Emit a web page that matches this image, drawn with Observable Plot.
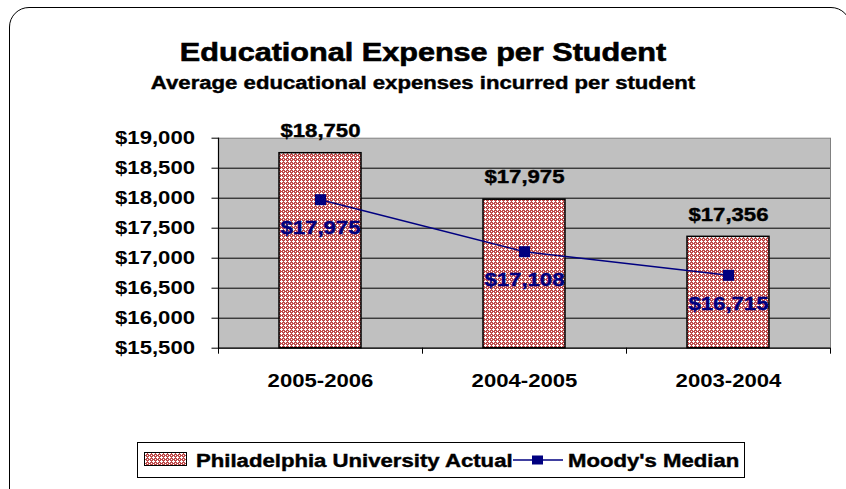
<!DOCTYPE html>
<html><head><meta charset="utf-8">
<script src="https://cdn.jsdelivr.net/npm/d3@7"></script>
<script src="https://cdn.jsdelivr.net/npm/@observablehq/plot@0.6"></script>
<style>
body{margin:0;background:#fff;}
#wrap{position:relative;width:846px;height:489px;overflow:hidden;font-family:"Liberation Sans",Arial,sans-serif;font-weight:bold;color:#000;}
#frame{position:absolute;left:9px;top:7px;width:842px;height:540px;border:1.5px solid #000;border-radius:20px;box-sizing:border-box;}
.t{position:absolute;white-space:nowrap;-webkit-text-stroke:0.4px #000;}
#title{left:0;top:40px;width:846px;text-align:center;font-size:25.5px;line-height:25.5px;transform:scaleX(1.2);transform-origin:423px 0;-webkit-text-stroke:0.6px #000;}
#subtitle{left:0;top:74px;width:846px;text-align:center;font-size:18px;line-height:18px;transform:scaleX(1.23);transform-origin:423px 0;}
#chart{position:absolute;left:0;top:100px;}
#legend{position:absolute;left:137px;top:442px;width:608px;height:36px;border:1px solid #000;background:#fff;box-sizing:border-box;}
#legend .lt{position:absolute;top:8.5px;font-size:18px;line-height:18px;transform:scaleX(1.23);transform-origin:0 0;white-space:nowrap;-webkit-text-stroke:0.4px #000;}
#legend svg{position:absolute;}
</style>
</head><body>
<div id="wrap">
  <div id="frame"></div>
  <div id="title" class="t"></div>
  <div id="subtitle" class="t"></div>
  <div id="chart"></div>
  <div id="legend"></div>
</div>
<script>
const titleText = "Educational Expense per Student";
const subtitleText = "Average educational expenses incurred per student";
const categories = ["2005-2006", "2004-2005", "2003-2004"];
const actualValues = [18750, 17975, 17356];
const moodysValues = [17975, 17108, 16715];
const yTicks = [15500, 16000, 16500, 17000, 17500, 18000, 18500, 19000];
const seriesNames = ["Philadelphia University Actual", "Moody's Median"];

const data = categories.map((c, i) => ({year: c, actual: actualValues[i], moody: moodysValues[i]}));
const yMin = yTicks[0], yMax = yTicks[yTicks.length - 1];
const fmt = d => "$" + d3.format(",")(d);

const W = 846, H = 300, mL = 218, mR = 16, mT = 37.7, mB = 52.3;
const step = (W - mL - mR) / categories.length;
const plotH = H - mT - mB;
const navy = "#000080";
const SX = 1.23;

document.getElementById("title").textContent = titleText;
document.getElementById("subtitle").textContent = subtitleText;

const chart = Plot.plot({
  width: W, height: H,
  marginLeft: mL, marginRight: mR, marginTop: mT, marginBottom: mB,
  style: {fontFamily: '"Liberation Sans", Arial, sans-serif', fontSize: "18px", fontWeight: "bold", background: "transparent", overflow: "visible", color: "#000"},
  x: {domain: categories, paddingInner: 0.6, paddingOuter: 0.3, axis: null},
  y: {domain: [yMin, yMax], axis: null},
  marks: [
    Plot.frame({fill: "#c0c0c0", stroke: "#808080"}),
    Plot.ruleY(yTicks.filter(t => t > yMin && t < yMax), {stroke: "#000", strokeWidth: 1}),
    Plot.barY(data, {x: "year", y1: yMin, y2: "actual", fill: "url(#pat)", stroke: "#000", strokeWidth: 1.5}),
    Plot.ruleY([yMin], {stroke: "#000", strokeWidth: 1.2}),
    Plot.frame({anchor: "left", stroke: "#000", strokeWidth: 1.2}),
    Plot.axisY(yTicks, {tickSize: 6.5, tickPadding: 17, tickFormat: fmt, label: null, stroke: "#000", fill: "#000", fontSize: 18, fontWeight: "bold"}),
    Plot.ruleX(categories, {x: d => d, dx: -step / 2, insetTop: plotH, insetBottom: -6, stroke: "#000"}),
    Plot.ruleX(categories.slice(-1), {x: d => d, dx: step / 2, insetTop: plotH, insetBottom: -6, stroke: "#000"}),
    Plot.axisX({tickSize: 0, tickPadding: 25.6, label: null, fill: "#000", stroke: "#000", fontSize: 18, fontWeight: "bold"}),
    Plot.line(data, {x: "year", y: "moody", stroke: navy, strokeWidth: 1.5}),
    Plot.dot(data, {x: "year", y: "moody", symbol: "square", r: 6.2, fill: navy, stroke: null}),
    Plot.text(data, {x: "year", y: "actual", text: d => fmt(d.actual), dy: -22, fill: "#000", stroke: "#000", fontSize: 18, fontWeight: "bold"}),
    Plot.text(data, {x: "year", y: "moody", text: d => fmt(d.moody), dy: 29, fill: navy, stroke: navy, fontSize: 18, fontWeight: "bold"})
  ]
});

const ns = "http://www.w3.org/2000/svg";
const patternDef = `<pattern id="pat" patternUnits="userSpaceOnUse" width="4" height="4">
  <rect width="4" height="4" fill="#bf4a4a"/>
  <rect x="1" y="0" width="1" height="3" fill="#fff"/><rect x="0" y="1" width="3" height="1" fill="#fff"/>
  <rect x="3" y="3" width="1" height="1" fill="#fff"/>
</pattern>`;
const defs = document.createElementNS(ns, "defs");
defs.innerHTML = patternDef;
chart.insertBefore(defs, chart.firstChild);

// horizontally stretch text glyphs like the original rendering
chart.querySelectorAll("text").forEach(t => {
  const tr = t.getAttribute("transform") || "";
  t.setAttribute("transform", `${tr} scale(${SX},1)`);
  t.style.strokeWidth = "0.4px";
});
document.getElementById("chart").appendChild(chart);

// legend
const legend = document.getElementById("legend");
legend.innerHTML = `
  <svg style="left:6px;top:9px" width="43" height="14"><defs>${patternDef.replace('id="pat"', 'id="patL"')}</defs>
    <rect x="0.5" y="0.5" width="42" height="13" fill="url(#patL)" stroke="#000" stroke-width="1"/></svg>
  <div class="lt" style="left:58px"></div>
  <svg style="left:375px;top:8px" width="50" height="18">
    <line x1="0" y1="9" x2="50" y2="9" stroke="${navy}" stroke-width="1.5"/>
    <rect x="19" y="4.5" width="11" height="9" fill="${navy}"/></svg>
  <div class="lt" style="left:430px"></div>`;
const lts = legend.querySelectorAll(".lt");
lts[0].textContent = seriesNames[0];
lts[1].textContent = seriesNames[1];
</script>
</body></html>
